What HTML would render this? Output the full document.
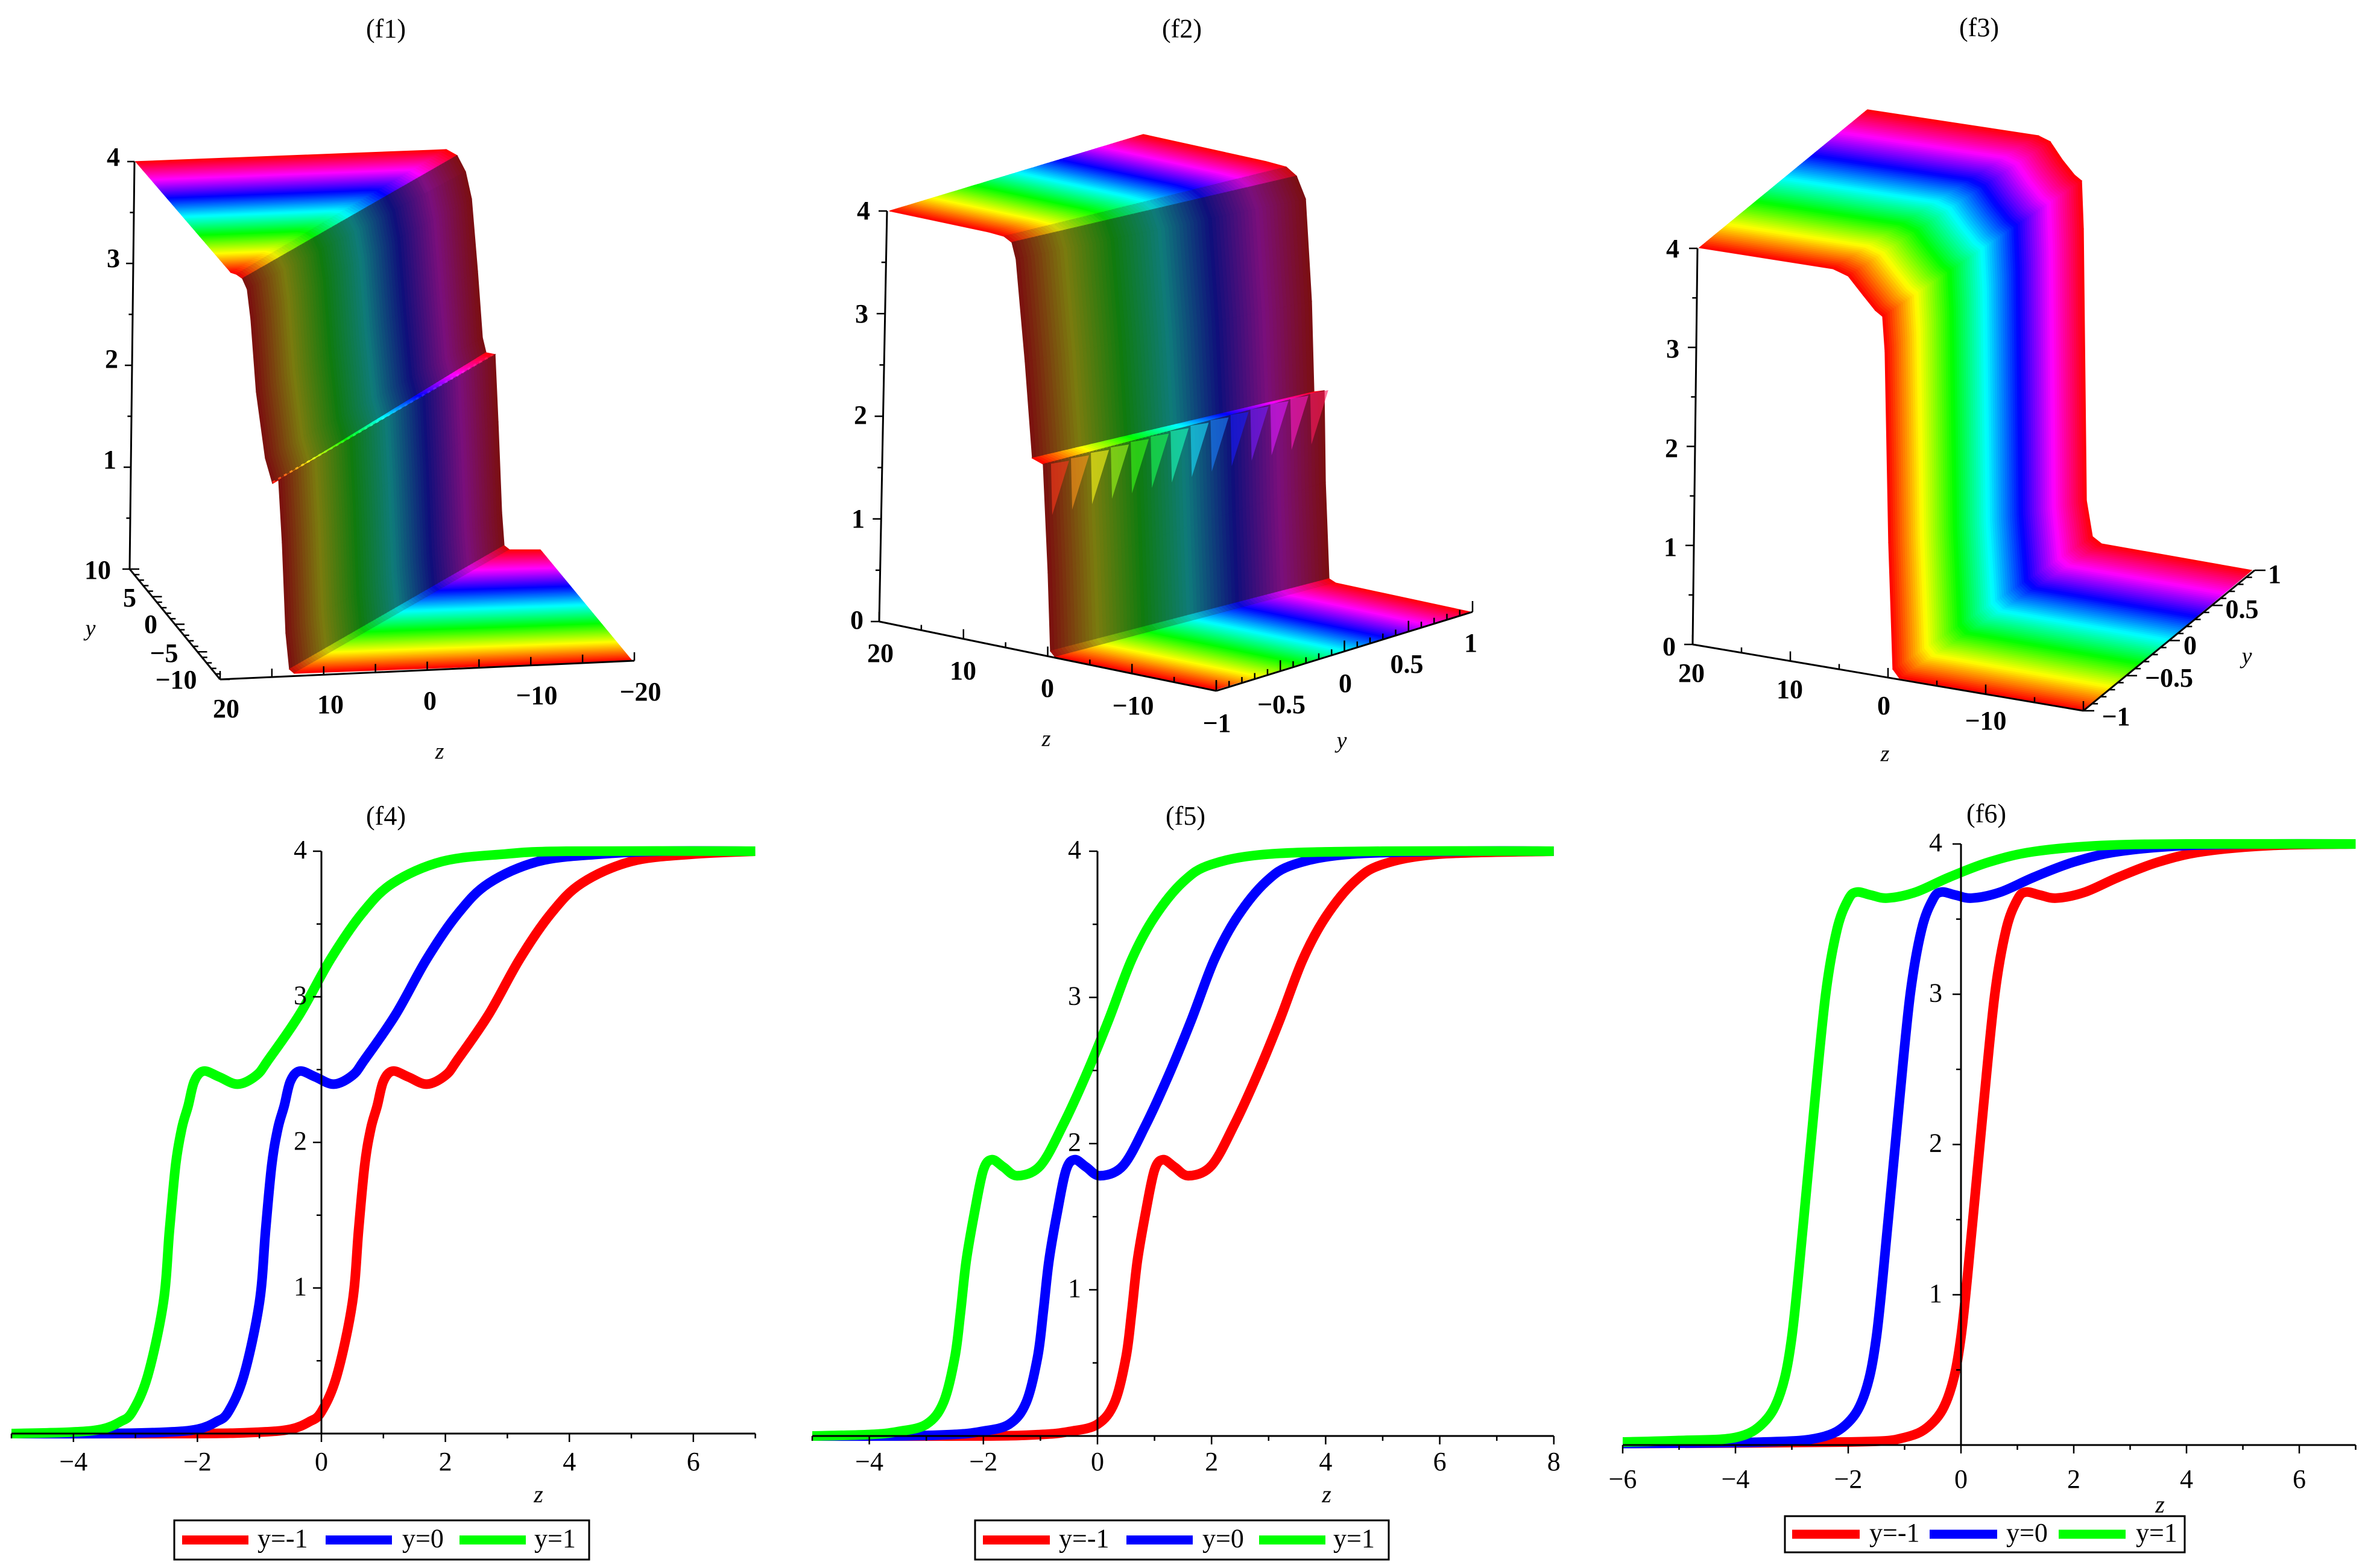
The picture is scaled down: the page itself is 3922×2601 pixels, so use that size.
<!DOCTYPE html>
<html><head><meta charset="utf-8">
<style>
html,body{margin:0;padding:0;background:#fff;}
svg{display:block;font-family:"Liberation Serif",serif;}
</style></head>
<body>
<svg id="root" xmlns="http://www.w3.org/2000/svg" width="3922" height="2601" viewBox="0 0 3922 2601">
<rect x="0" y="0" width="3922" height="2601" fill="#fff"/>
<g id="f1"></g>
<g id="f2"></g>
<g id="f3"></g>
<g id="f4"></g>
<g id="f5"></g>
<g id="f6"></g>
<text x="640" y="52" font-size="44" text-anchor="middle" dominant-baseline="middle">(f1)</text>
<text x="1960" y="52" font-size="44" text-anchor="middle" dominant-baseline="middle">(f2)</text>
<text x="3282" y="50" font-size="44" text-anchor="middle" dominant-baseline="middle">(f3)</text>
<text x="640" y="1358" font-size="44" text-anchor="middle" dominant-baseline="middle">(f4)</text>
<text x="1966" y="1358" font-size="44" text-anchor="middle" dominant-baseline="middle">(f5)</text>
<text x="3294" y="1354" font-size="44" text-anchor="middle" dominant-baseline="middle">(f6)</text>
</svg>
<script>
// ---------- 2D chart data (z samples and values) ----------
const f4XTicks = [-4,-2,0,2,4,6];
const f4YTicks = [1,2,3,4];
const f4RedZ = [-5,-2,-1,-0.5,-0.2,0,0.25,0.5,0.6,0.7,0.8,0.9,1.0,1.15,1.4,1.7,2.0,2.2,2.7,3.2,3.7,4.2,5,6,7];
const f4RedV = [0,0,0.01,0.03,0.08,0.15,0.4,0.9,1.4,1.85,2.1,2.25,2.42,2.49,2.45,2.4,2.46,2.57,2.88,3.26,3.57,3.78,3.93,3.98,4.0];
const f4BlueZ = [-5,-3.5,-2.5,-2,-1.7,-1.5,-1.25,-1,-0.9,-0.8,-0.7,-0.6,-0.5,-0.35,-0.1,0.2,0.5,0.7,1.2,1.7,2.2,2.7,3.5,4.5,5.5,7];
const f4BlueV = [0,0,0.01,0.03,0.08,0.15,0.4,0.9,1.4,1.85,2.1,2.25,2.42,2.49,2.45,2.4,2.46,2.57,2.88,3.26,3.57,3.78,3.93,3.98,4.0,4.0];
const f4GreenZ = [-5,-4.05,-3.55,-3.25,-3.05,-2.8,-2.55,-2.45,-2.35,-2.25,-2.15,-2.05,-1.9,-1.65,-1.35,-1.05,-0.85,-0.35,0.15,0.65,1.15,1.95,2.95,3.95,7];
const f4GreenV = [0,0.01,0.03,0.08,0.15,0.4,0.9,1.4,1.85,2.1,2.25,2.42,2.49,2.45,2.4,2.46,2.57,2.88,3.26,3.57,3.78,3.93,3.98,4.0,4.0];

const f5XTicks = [-4,-2,0,2,4,6,8];
const f5YTicks = [1,2,3,4];
const f5RedZ = [-5,-2,-1,-0.5,0,0.3,0.5,0.6,0.7,0.85,1.0,1.15,1.35,1.6,2.0,2.4,2.8,3.2,3.6,4.0,4.5,5,6,8];
const f5RedV = [0,0,0.01,0.03,0.08,0.23,0.54,0.85,1.2,1.54,1.82,1.89,1.84,1.78,1.85,2.13,2.47,2.85,3.26,3.55,3.79,3.91,3.98,4.0];
const f5BlueZ = [-5,-3.55,-2.55,-2.05,-1.55,-1.25,-1.05,-0.95,-0.85,-0.7,-0.55,-0.4,-0.2,0.05,0.45,0.85,1.25,1.65,2.05,2.45,2.95,3.45,4.45,6.45,8];
const f5BlueV = [0,0,0.01,0.03,0.08,0.23,0.54,0.85,1.2,1.54,1.82,1.89,1.84,1.78,1.85,2.13,2.47,2.85,3.26,3.55,3.79,3.91,3.98,4.0,4.0];
const f5GreenZ = [-5,-4,-3.5,-3,-2.7,-2.5,-2.4,-2.3,-2.15,-2.0,-1.85,-1.65,-1.4,-1.0,-0.6,-0.2,0.2,0.6,1.0,1.5,2.0,3.0,5,8];
const f5GreenV = [0,0.01,0.03,0.08,0.23,0.54,0.85,1.2,1.54,1.82,1.89,1.84,1.78,1.85,2.13,2.47,2.85,3.26,3.55,3.79,3.91,3.98,4.0,4.0];

const f6XTicks = [-6,-4,-2,0,2,4,6];
const f6YTicks = [1,2,3,4];
const f6RedZ = [-6,-2,-1,-0.5,-0.2,0,0.2,0.4,0.6,0.8,1.0,1.15,1.4,1.7,2.2,2.8,3.5,4.3,5.5,7];
const f6RedV = [0.01,0.02,0.05,0.15,0.35,0.72,1.46,2.26,3.0,3.43,3.63,3.68,3.66,3.64,3.68,3.78,3.88,3.95,3.99,4.0];
const f6BlueZ = [-6,-3.5,-2.5,-2,-1.7,-1.5,-1.3,-1.1,-0.9,-0.7,-0.5,-0.35,-0.1,0.2,0.7,1.3,2.0,2.8,4.0,5.5,7];
const f6BlueV = [0.01,0.02,0.05,0.15,0.35,0.72,1.46,2.26,3.0,3.43,3.63,3.68,3.66,3.64,3.68,3.78,3.88,3.95,3.99,4.0,4.0];
const f6GreenZ = [-6,-5,-4,-3.5,-3.2,-3,-2.8,-2.6,-2.4,-2.2,-2,-1.85,-1.6,-1.3,-0.8,-0.2,0.5,1.3,2.5,4,7];
const f6GreenV = [0.02,0.03,0.05,0.15,0.35,0.72,1.46,2.26,3.0,3.43,3.63,3.68,3.66,3.64,3.68,3.78,3.88,3.95,3.99,4.0,4.0];

const NS = 'http://www.w3.org/2000/svg';
function mk(tag, attrs, parent){
  const e = document.createElementNS(NS, tag);
  for (const k in attrs) e.setAttribute(k, attrs[k]);
  parent.appendChild(e);
  return e;
}
function fmt(v){ return v < 0 ? '\u2212' + Math.abs(v) : String(v); }
function smoothPath(pts){
  let d = 'M' + pts[0][0].toFixed(1) + ',' + pts[0][1].toFixed(1);
  for (let i = 0; i < pts.length - 1; i++){
    const p0 = pts[Math.max(0, i - 1)], p1 = pts[i], p2 = pts[i + 1], p3 = pts[Math.min(pts.length - 1, i + 2)];
    const c1 = [p1[0] + (p2[0] - p0[0]) / 6, p1[1] + (p2[1] - p0[1]) / 6];
    const c2 = [p2[0] - (p3[0] - p1[0]) / 6, p2[1] - (p3[1] - p1[1]) / 6];
    d += ' C' + c1[0].toFixed(1) + ',' + c1[1].toFixed(1) + ' ' + c2[0].toFixed(1) + ',' + c2[1].toFixed(1) + ' ' + p2[0].toFixed(1) + ',' + p2[1].toFixed(1);
  }
  return d;
}

function plot2D(gid, c, series, xTicks, yTicks){
  const g = document.getElementById(gid);
  const X = z => c.x0 + z * c.ux;
  const Y = v => c.y0 - v * c.uy;
  const clipId = gid + '-clip';
  const defs = mk('defs', {}, g);
  const cp = mk('clipPath', {id: clipId}, defs);
  mk('rect', {x: X(c.zmin), y: Y(4) - 30, width: X(c.zmax) - X(c.zmin), height: c.uy * 4 + 60}, cp);
  const cg = mk('g', {'clip-path': 'url(#' + clipId + ')'}, g);
  series.forEach(s => {
    const pts = s.z.map((z, i) => [X(z), Y(s.v[i])]);
    const pl = mk('path', {d: smoothPath(pts), fill: 'none', stroke: s.color, 'stroke-width': 16, 'stroke-linejoin': 'round'}, cg);
    
    
  });
  const xa = mk('line', {x1: X(c.zmin), y1: c.y0, x2: X(c.zmax), y2: c.y0, stroke: '#000', 'stroke-width': 3}, g);
  
  
  const ya = mk('line', {x1: c.x0, y1: c.y0, x2: c.x0, y2: Y(4), stroke: '#000', 'stroke-width': 3}, g);
  
  
  for (let z = Math.ceil(c.zmin); z <= c.zmax; z++){
    const major = xTicks.indexOf(z) >= 0;
    mk('line', {x1: X(z), y1: c.y0, x2: X(z), y2: c.y0 + (major ? 14 : 8), stroke: '#000', 'stroke-width': 2.5}, g);
  }
  for (let v = 0.5; v <= 4; v += 0.5){
    const major = Number.isInteger(v);
    mk('line', {x1: c.x0, y1: Y(v), x2: c.x0 - (major ? 14 : 8), y2: Y(v), stroke: '#000', 'stroke-width': 2.5}, g);
  }
  xTicks.forEach(z => {
    const t = mk('text', {x: X(z), y: c.xly, 'font-size': 44, 'text-anchor': 'middle', 'dominant-baseline': 'middle'}, g);
    t.textContent = fmt(z);
    
    
  });
  yTicks.forEach(v => {
    const t = mk('text', {x: c.ylx, y: Y(v) + 2, 'font-size': 44, 'text-anchor': 'middle', 'dominant-baseline': 'middle'}, g);
    t.textContent = fmt(v);
    
    
  });
  const zl = mk('text', {x: c.zlx, y: c.zly, 'font-size': 40, 'font-style': 'italic', 'text-anchor': 'middle', 'dominant-baseline': 'middle'}, g);
  zl.textContent = 'z';
  
  
  const L = c.leg;
  const lb = mk('rect', {x: L.x, y: L.y, width: L.w, height: L.h, fill: '#fff', stroke: '#000', 'stroke-width': 3}, g);
  
  
  series.forEach((s, i) => {
    const e = L.entries[i];
    const ln = mk('line', {x1: L.x + e[0], y1: L.y + L.h / 2, x2: L.x + e[1], y2: L.y + L.h / 2, stroke: s.color, 'stroke-width': 15}, g);
    
    
    const t = mk('text', {x: L.x + e[2], y: L.y + L.h / 2 + 2, 'font-size': 44, 'dominant-baseline': 'middle'}, g);
    t.textContent = s.label;
    
    
  });
}

plot2D('f4', {x0: 533, ux: 102.8, y0: 2378, uy: 241.5, zmin: -5, zmax: 7, xly: 2429, ylx: 498, zlx: 893, zly: 2483,
  leg: {x: 289, y: 2522, w: 688, h: 65, entries: [[13,123,138],[251,361,378],[473,583,597]]}},
  [{z: f4RedZ, v: f4RedV, color: '#ff0000', name: 'curve-y-minus-1', label: 'y=-1'},
   {z: f4BlueZ, v: f4BlueV, color: '#0000ff', name: 'curve-y-0', label: 'y=0'},
   {z: f4GreenZ, v: f4GreenV, color: '#00ff00', name: 'curve-y-1', label: 'y=1'}], f4XTicks, f4YTicks);
plot2D('f5', {x0: 1820, ux: 94.6, y0: 2382, uy: 242.5, zmin: -5, zmax: 8, xly: 2429, ylx: 1782, zlx: 2200, zly: 2483,
  leg: {x: 1617, y: 2522, w: 686, h: 65, entries: [[13,124,139],[251,361,377],[471,581,594]]}},
  [{z: f5RedZ, v: f5RedV, color: '#ff0000', name: 'curve-y-minus-1', label: 'y=-1'},
   {z: f5BlueZ, v: f5BlueV, color: '#0000ff', name: 'curve-y-0', label: 'y=0'},
   {z: f5GreenZ, v: f5GreenV, color: '#00ff00', name: 'curve-y-1', label: 'y=1'}], f5XTicks, f5YTicks);
plot2D('f6', {x0: 3252, ux: 93.5, y0: 2397, uy: 249.25, zmin: -6, zmax: 7, xly: 2458, ylx: 3210, zlx: 3582, zly: 2500,
  leg: {x: 2960, y: 2515, w: 663, h: 60, entries: [[12,124,140],[240,352,367],[454,565,582]]}},
  [{z: f6RedZ, v: f6RedV, color: '#ff0000', name: 'curve-y-minus-1', label: 'y=-1'},
   {z: f6BlueZ, v: f6BlueV, color: '#0000ff', name: 'curve-y-0', label: 'y=0'},
   {z: f6GreenZ, v: f6GreenV, color: '#00ff00', name: 'curve-y-1', label: 'y=1'}], f6XTicks, f6YTicks);

// ---------- 3D surfaces: front (y min) and back (y max) projected profiles ----------
function lerp(a, b, t){ return [a[0] + (b[0] - a[0]) * t, a[1] + (b[1] - a[1]) * t]; }
function surface(gid, P, Q, n, dark){
  const g = document.getElementById(gid);
  const sg = mk('g', {}, g);
  
  
  for (let k = n - 1; k >= 0; k--){
    const t0 = k / n, t1 = (k + 1) / n, tm = (t0 + t1) / 2;
    const hue = 360 * tm;
    for (let i = 0; i < P.length - 1; i++){
      const a = lerp(P[i], Q[i], t0), b = lerp(P[i + 1], Q[i + 1], t0);
      const c = lerp(P[i + 1], Q[i + 1], t1), d = lerp(P[i], Q[i], t1);
      const m0 = lerp(P[i], Q[i], tm), m1 = lerp(P[i + 1], Q[i + 1], tm);
      const dx = m1[0] - m0[0], dy = m1[1] - m0[1];
      const len = Math.hypot(dx, dy) || 1;
      const steep = Math.abs(dy) / len;
      let L = 50, S = 100;
      if (dark){
        const f = Math.max(0, Math.min(1, (steep - 0.5) / 0.4));
        L = 50 - 23 * f; S = 100 - 22 * f;
      }
      const col = 'hsl(' + hue.toFixed(1) + ',' + S.toFixed(0) + '%,' + L.toFixed(0) + '%)';
      mk('polygon', {points: [a, b, c, d].map(p => p[0].toFixed(1) + ',' + p[1].toFixed(1)).join(' '), fill: col, stroke: col, 'stroke-width': 1.3}, sg);
    }
  }
}
function axis3(gid, a, b, nTicks, dx, dy, majorEvery, name){
  const g = document.getElementById(gid);
  const l = mk('line', {x1: a[0], y1: a[1], x2: b[0], y2: b[1], stroke: '#000', 'stroke-width': 3}, g);
  
  
  for (let i = 0; i <= nTicks; i++){
    const p = lerp(a, b, i / nTicks);
    const s = (i % majorEvery === 0) ? 1 : 0.55;
    mk('line', {x1: p[0], y1: p[1], x2: p[0] + dx * s, y2: p[1] + dy * s, stroke: '#000', 'stroke-width': 2.5}, g);
  }
}
function lab(gid, x, y, txt, name, italic){
  const g = document.getElementById(gid);
  const t = mk('text', {x: x, y: y, 'font-size': italic ? 38 : 44, 'font-weight': italic ? 'normal' : 'bold', 'font-style': italic ? 'italic' : 'normal', 'text-anchor': 'middle', 'dominant-baseline': 'middle'}, g);
  t.textContent = txt;
  
  
}

// f1
surface('f1',
  [[383,452],[383,452],[392,455],[402,462],[410,480],[416,530],[425,650],[440,760],[452,802],[462,796],[468,900],[474,1050],[480,1110],[488,1117],[1048,1096]],
  [[225,268],[718,249],[740,248],[758,258],[772,285],[782,330],[792,450],[800,560],[806,585],[821,588],[826,700],[832,850],[836,905],[845,912],[896,912]], 80, true);
(function(){
  const g = document.getElementById('f1');
  const defs = mk('defs', {}, g);
  const lg = mk('linearGradient', {id: 'f1dot', x1: 452, y1: 802, x2: 821, y2: 588, gradientUnits: 'userSpaceOnUse'}, defs);
  [0,60,120,180,240,300,360].forEach((h, i) => mk('stop', {offset: i / 6, 'stop-color': 'hsl(' + h + ',100%,55%)'}, lg));
  const d = mk('line', {x1: 452, y1: 800, x2: 821, y2: 586, stroke: 'url(#f1dot)', 'stroke-width': 3, 'stroke-dasharray': '5 6'}, g);
  
  
})();
axis3('f1', [223,268], [215,944], 8, -12, 0, 2, 'vertical-axis');
axis3('f1', [215,944], [365,1127], 20, 16, 0, 5, 'y-axis');
axis3('f1', [365,1127], [1052,1096], 8, 0, -14, 1, 'z-axis');
lab('f1',188,265,'4','tick-label'); lab('f1',188,433,'3','tick-label'); lab('f1',185,600,'2','tick-label'); lab('f1',182,767,'1','tick-label');
lab('f1',162,950,'10','tick-label'); lab('f1',215,996,'5','tick-label'); lab('f1',250,1040,'0','tick-label'); lab('f1',272,1088,'\u22125','tick-label'); lab('f1',292,1132,'\u221210','tick-label');
lab('f1',150,1046,'y','y-axis-title',true);
lab('f1',375,1180,'20','tick-label'); lab('f1',548,1173,'10','tick-label'); lab('f1',713,1167,'0','tick-label'); lab('f1',890,1158,'\u221210','tick-label'); lab('f1',1062,1152,'\u221220','tick-label');
lab('f1',729,1250,'z','z-axis-title',true);

// f2
surface('f2',
  [[1475,350],[1640,385],[1665,392],[1678,402],[1685,430],[1700,600],[1712,760],[1730,770],[1738,950],[1742,1080],[1750,1090],[2015,1144]],
  [[1896,223],[2100,268],[2133,277],[2150,292],[2165,330],[2175,500],[2179,650],[2196,648],[2198,800],[2204,960],[2215,967],[2438,1015]], 80, true);
(function(){
  const g = document.getElementById('f2');
  for (let j = 0; j < 14; j++){
    const t = (j + 0.3) / 14;
    const p = lerp([1733,772], [2196,646], t);
    const col = 'hsl(' + (360 * t).toFixed(0) + ',100%,55%)';
    const sp = mk('polygon', {points: [p, [p[0] + 30, p[1] - 5], [p[0] + 2, p[1] + 85]].map(q => q[0].toFixed(1) + ',' + q[1].toFixed(1)).join(' '), fill: col, opacity: 0.6}, g);
    
    
  }
})();
axis3('f2', [1471,350], [1458,1031], 8, -14, 0, 2, 'vertical-axis');
axis3('f2', [1458,1031], [2017,1146], 8, 0, -16, 2, 'z-axis');
axis3('f2', [2017,1146], [2442,1015], 20, 0, -18, 5, 'y-axis');
lab('f2',1432,354,'4','tick-label'); lab('f2',1429,525,'3','tick-label'); lab('f2',1427,693,'2','tick-label'); lab('f2',1423,865,'1','tick-label'); lab('f2',1421,1033,'0','tick-label');
lab('f2',1460,1088,'20','tick-label'); lab('f2',1597,1117,'10','tick-label'); lab('f2',1737,1146,'0','tick-label'); lab('f2',1879,1175,'\u221210','tick-label');
lab('f2',1735,1229,'z','z-axis-title',true);
lab('f2',2018,1204,'\u22121','tick-label'); lab('f2',2125,1173,'\u22120.5','tick-label'); lab('f2',2231,1138,'0','tick-label'); lab('f2',2333,1106,'0.5','tick-label'); lab('f2',2439,1071,'1','tick-label');
lab('f2',2225,1232,'y','y-axis-title',true);

// f3
surface('f3',
  [[2818,411],[3040,446],[3065,458],[3090,490],[3110,515],[3122,525],[3126,583],[3132,900],[3139,1110],[3150,1125],[3455,1179]],
  [[3097,182],[3380,225],[3400,235],[3420,265],[3440,290],[3452,300],[3455,380],[3460,830],[3470,890],[3485,902],[3734,946]], 90, false);
axis3('f3', [2815,412], [2807,1069], 8, -14, 0, 2, 'vertical-axis');
axis3('f3', [2807,1069], [3455,1179], 8, 0, -16, 2, 'z-axis');
axis3('f3', [3455,1179], [3739,946], 20, 18, 0, 5, 'y-axis');
lab('f3',2774,417,'4','tick-label'); lab('f3',2774,583,'3','tick-label'); lab('f3',2772,748,'2','tick-label'); lab('f3',2770,912,'1','tick-label'); lab('f3',2768,1077,'0','tick-label');
lab('f3',2805,1121,'20','tick-label'); lab('f3',2968,1148,'10','tick-label'); lab('f3',3124,1175,'0','tick-label'); lab('f3',3293,1200,'\u221210','tick-label');
lab('f3',3126,1254,'z','z-axis-title',true);
lab('f3',3772,957,'1','tick-label'); lab('f3',3718,1015,'0.5','tick-label'); lab('f3',3632,1075,'0','tick-label'); lab('f3',3597,1129,'\u22120.5','tick-label'); lab('f3',3509,1193,'\u22121','tick-label');
lab('f3',3726,1092,'y','y-axis-title',true);
</script>
</body></html>
